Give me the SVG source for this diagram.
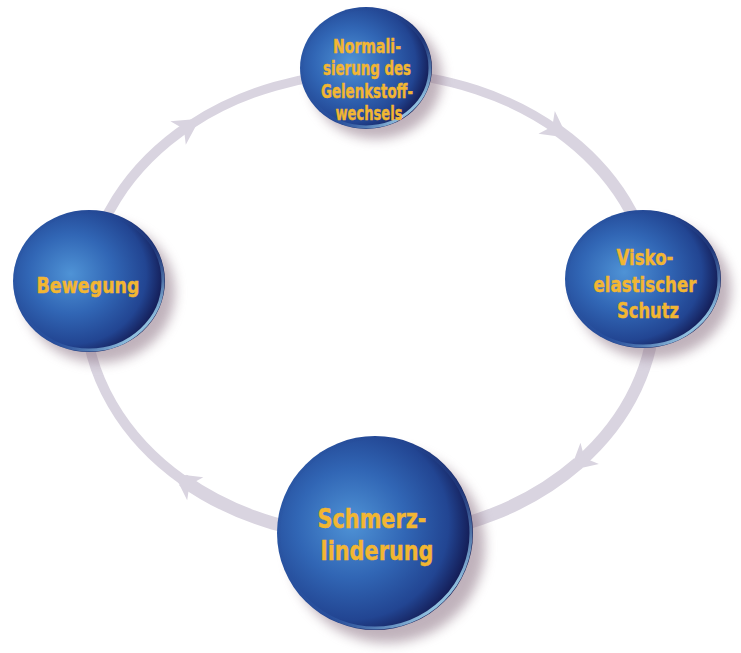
<svg xmlns="http://www.w3.org/2000/svg" width="741" height="653" viewBox="0 0 741 653">
  <defs>
    <style>
      .ring { fill: none; stroke: #d9d4e0; stroke-linecap: butt; }
      .lbl { font-family: "DejaVu Sans Condensed", "Liberation Sans", sans-serif; font-weight: bold; fill: #f2b632; stroke: #f2b632; stroke-width: 0.4; text-anchor: middle; }
      .ball { fill: url(#sphere); }
      .rim { fill: none; stroke: url(#rimGrad); stroke-width: 3; }
      .shadow { fill: #8c7384; opacity: 0.55; filter: url(#blur); }
    </style>
    <radialGradient id="sphere" cx="0.38" cy="0.45" r="0.62">
      <stop offset="0" stop-color="#4f93d6"/>
      <stop offset="0.45" stop-color="#3166b5"/>
      <stop offset="0.8" stop-color="#224592"/>
      <stop offset="1" stop-color="#131a52"/>
    </radialGradient>
    <linearGradient id="rimGrad" x1="0" y1="0" x2="1" y2="1">
      <stop offset="0" stop-color="#1a2466" stop-opacity="0"/>
      <stop offset="0.6" stop-color="#3a6fbf" stop-opacity="0.2"/>
      <stop offset="0.85" stop-color="#9ed2ee" stop-opacity="0.9"/>
      <stop offset="1" stop-color="#9ed2ee" stop-opacity="0.6"/>
    </linearGradient>
    <filter id="blur" x="-30%" y="-30%" width="160%" height="160%">
      <feGaussianBlur stdDeviation="6"/>
    </filter>
    <marker id="arrow" markerUnits="userSpaceOnUse" viewBox="-20 -20 40 40" markerWidth="40" markerHeight="40" refX="0" refY="0" orient="auto">
      <path d="M 11 0 L -15 -14 L -8 0 L -15 14 Z" fill="#d9d4e0"/>
    </marker>
  </defs>

  <rect x="0" y="0" width="741" height="653" fill="#ffffff"/>

  <g id="connectors">
    <path class="ring" stroke-width="10" d="M 183 480.1 A 285 232 0 0 1 190.6 124.7" marker-end="url(#arrow)"/>
    <path class="ring" stroke-width="9" d="M 190.6 124.7 A 285 232 0 0 1 558.8 131.2" marker-end="url(#arrow)"/>
    <path class="ring" stroke-width="12" d="M 558.8 131.2 A 285 232 0 0 1 578.4 463.2" marker-end="url(#arrow)"/>
    <path class="ring" stroke-width="13" d="M 578.4 463.2 A 285 232 0 0 1 183 480.1" marker-end="url(#arrow)"/>
  </g>

  <g id="node-normalisierung">
    <ellipse class="shadow" cx="376" cy="78" rx="66" ry="61"/>
    <ellipse class="ball" cx="366" cy="68" rx="66" ry="61"/>
    <ellipse class="rim" cx="366" cy="68" rx="64" ry="59"/>
    <text class="lbl" font-size="19" x="367" y="53" textLength="68" lengthAdjust="spacingAndGlyphs">Normali-</text>
    <text class="lbl" font-size="19" x="367" y="75" textLength="88" lengthAdjust="spacingAndGlyphs">sierung des</text>
    <text class="lbl" font-size="19" x="367" y="98" textLength="92" lengthAdjust="spacingAndGlyphs">Gelenkstoff-</text>
    <text class="lbl" font-size="19" x="369" y="120" textLength="67" lengthAdjust="spacingAndGlyphs">wechsels</text>
  </g>

  <g id="node-visko">
    <ellipse class="shadow" cx="653" cy="290" rx="78" ry="69"/>
    <ellipse class="ball" cx="643" cy="279" rx="78" ry="69"/>
    <ellipse class="rim" cx="643" cy="279" rx="76" ry="67"/>
    <text class="lbl" font-size="22" x="645" y="265" textLength="57" lengthAdjust="spacingAndGlyphs">Visko-</text>
    <text class="lbl" font-size="22" x="645" y="292" textLength="103" lengthAdjust="spacingAndGlyphs">elastischer</text>
    <text class="lbl" font-size="22" x="648" y="318" textLength="62" lengthAdjust="spacingAndGlyphs">Schutz</text>
  </g>

  <g id="node-schmerz">
    <ellipse class="shadow" cx="387" cy="546" rx="98" ry="97"/>
    <ellipse class="ball" cx="375" cy="533" rx="98" ry="97"/>
    <ellipse class="rim" cx="375" cy="533" rx="96" ry="95"/>
    <text class="lbl" font-size="27" x="372" y="528" textLength="109" lengthAdjust="spacingAndGlyphs">Schmerz-</text>
    <text class="lbl" font-size="27" x="377" y="560" textLength="113" lengthAdjust="spacingAndGlyphs">linderung</text>
  </g>

  <g id="node-bewegung">
    <ellipse class="shadow" cx="99" cy="292" rx="76" ry="71"/>
    <ellipse class="ball" cx="89" cy="281" rx="76" ry="71"/>
    <ellipse class="rim" cx="89" cy="281" rx="74" ry="69"/>
    <text class="lbl" font-size="22" x="88" y="293" textLength="103" lengthAdjust="spacingAndGlyphs">Bewegung</text>
  </g>
</svg>
